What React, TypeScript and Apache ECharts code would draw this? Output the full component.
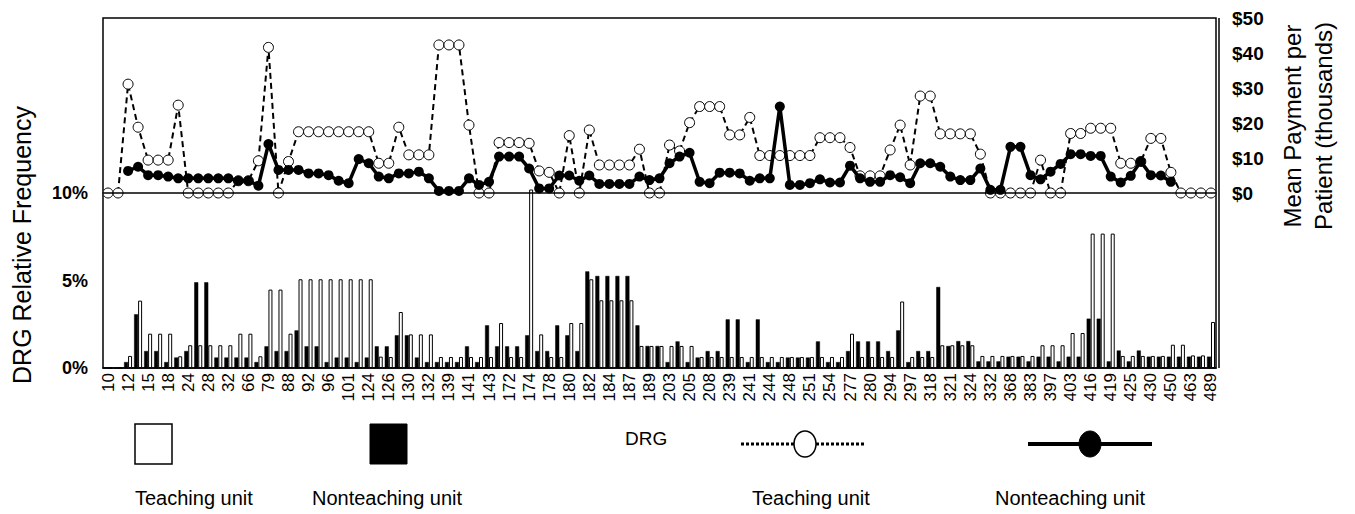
import React, { useEffect, useRef } from "react";
import * as echarts from "echarts";

const FONT = "'Liberation Sans', Arial, Helvetica, sans-serif";

// DRG codes (every other one is labelled on the axis)
const drgCodes: string[] = [
  "10", "11", "12", "14", "15", "16", "18", "19", "24", "25",
  "28", "29", "32", "34", "66", "68", "79", "82", "88", "89",
  "92", "94", "96", "99", "101", "110", "124", "125", "126", "127",
  "130", "131", "132", "138", "139", "140", "141", "142", "143", "148",
  "172", "173", "174", "175", "178", "179", "180", "181", "182", "183",
  "184", "185", "187", "188", "189", "202", "203", "204", "205", "207",
  "208", "210", "239", "240", "241", "243", "244", "246", "248", "249",
  "251", "253", "254", "263", "277", "278", "280", "283", "294", "296",
  "297", "316", "318", "320", "321", "323", "324", "331", "332", "367",
  "368", "382", "383", "395", "397", "398", "403", "415", "416", "418",
  "419", "421", "425", "429", "430", "449", "450", "462", "463", "468",
  "489",
];

// DRG relative frequency (%), teaching unit (white bars)
const teachingFreq: number[] = [
  0, 0, 0.69, 3.85, 1.96, 1.96, 1.96, 0.67, 1.3, 1.3,
  1.3, 1.3, 1.3, 1.96, 1.96, 0.67, 4.48, 4.48, 1.96, 5.07,
  5.07, 5.07, 5.07, 5.07, 5.07, 5.07, 5.07, 0.65, 0.63, 3.2,
  1.92, 1.92, 1.92, 0.63, 0.63, 0.63, 0.63, 0.63, 0.63, 2.57,
  0.63, 0.63, 10.2, 1.92, 0.63, 0.63, 2.57, 2.57, 5.07, 3.87,
  3.87, 3.87, 3.87, 1.26, 1.26, 1.26, 1.26, 1.26, 1.26, 0.63,
  0.63, 0.63, 0.63, 0.63, 0.63, 0.63, 0.63, 0.63, 0.63, 0.63,
  0.63, 0.63, 0.63, 0.63, 1.96, 0.63, 0.63, 0.63, 0.63, 3.8,
  0.63, 0.63, 0.63, 1.3, 1.3, 1.3, 1.3, 0.69, 0.69, 0.69,
  0.69, 0.69, 0.69, 1.3, 1.3, 1.3, 2.0, 2.0, 7.68, 7.68,
  7.68, 0.69, 0.69, 0.69, 0.69, 0.69, 1.33, 1.33, 0.72, 0.72,
  2.63,
];

// DRG relative frequency (%), nonteaching unit (black bars)
const nonteachingFreq: number[] = [
  0, 0, 0.34, 3.07, 0.97, 0.97, 0.34, 0.6, 0.97, 4.9,
  4.9, 0.6, 0.6, 0.6, 0.6, 0.34, 1.24, 0.97, 0.97, 2.15,
  1.24, 1.24, 0.34, 0.6, 0.6, 0.34, 0.6, 1.24, 1.24, 1.87,
  1.87, 0.6, 0.34, 0.34, 0.34, 0.34, 1.24, 0.34, 2.44, 1.24,
  1.24, 1.24, 1.87, 0.97, 0.97, 2.44, 1.87, 0.97, 5.52, 5.26,
  5.26, 5.26, 5.26, 2.44, 1.26, 1.26, 0.34, 1.52, 0.34, 0.6,
  0.97, 0.97, 2.78, 2.78, 0.34, 2.78, 0.34, 0.34, 0.6, 0.6,
  0.6, 1.52, 0.34, 0.34, 0.97, 1.52, 1.52, 1.52, 0.97, 2.15,
  0.34, 0.97, 0.97, 4.63, 1.26, 1.54, 1.54, 0.38, 0.38, 0.38,
  0.65, 0.65, 0.38, 0.65, 0.65, 0.38, 0.65, 0.65, 2.82, 2.82,
  0.38, 1.0, 0.38, 1.0, 0.65, 0.65, 0.65, 0.65, 0.65, 0.65,
  0.65,
];

// Mean payment per patient (thousands $), teaching unit
const teachingPay: (number | null)[] = [
  0, 0, 31.1, 18.8, 9.4, 9.4, 9.4, 25.1, 0, 0,
  0, 0, 0, 3.5, 3.5, 9.2, 41.6, 0, 9, 17.5,
  17.5, 17.5, 17.5, 17.5, 17.5, 17.5, 17.5, 8.5, 8.5, 18.8,
  10.9, 10.9, 10.9, 42.3, 42.3, 42.3, 19.4, 0, 0, 14.4,
  14.4, 14.4, 14.2, 6.3, 5.9, 0, 16.4, 0, 18, 8,
  8, 8, 8, 12.5, 0, 0, 13.7, 12, 20.1, 24.7,
  24.7, 24.7, 16.6, 16.6, 21.6, 10.7, 10.7, 10.7, 10.7, 10.7,
  10.7, 15.8, 15.8, 15.8, 13.0, 4.9, 4.9, 4.9, 12.3, 19.4,
  8, 27.7, 27.7, 16.9, 16.9, 16.9, 16.9, 11.1, 0, 0,
  0, 0, 0, 9.4, 0, 0, 17, 17, 18.5, 18.5,
  18.5, 8.5, 8.5, 9, 15.6, 15.6, 5.9, 0, 0, 0,
  0,
];

// Mean payment per patient (thousands $), nonteaching unit
const nonteachingPay: (number | null)[] = [
  null, null, 6.3, 7.5, 5.1, 5.1, 4.7, 4.2, 4.2, 4.2,
  4.2, 4.2, 4.2, 3.5, 3.5, 2.1, 14.0, 6.6, 6.6, 6.6,
  5.6, 5.6, 5.1, 3.5, 2.8, 9.7, 8.5, 4.7, 4.2, 5.6,
  5.6, 6.1, 4.2, 0.6, 0.6, 0.6, 4.2, 2.3, 3.2, 10.4,
  10.4, 10.4, 7.0, 1.3, 1.3, 5.0, 5.0, 3.5, 5.0, 2.6,
  2.6, 2.6, 2.6, 4.7, 3.7, 4.2, 8.5, 10.4, 11.5, 3.2,
  2.8, 5.8, 5.8, 5.6, 3.5, 4.2, 4.2, 24.7, 2.3, 2.3,
  2.8, 3.9, 3.0, 3.0, 7.8, 4.2, 3.2, 3.2, 5.1, 4.5,
  2.8, 8.5, 8.5, 7.5, 4.7, 3.7, 3.7, 7.0, 0.9, 0.9,
  13.2, 13.2, 5.1, 3.9, 6.1, 8.3, 11.1, 11.1, 10.6, 10.6,
  4.7, 3.0, 4.9, 9.0, 5.1, 5.0, 3.2, null, null, null,
  null,
];

const leftTicks = [0, 5, 10];
const rightTicks = [0, 10, 20, 30, 40, 50];

export default function App() {
  const ref = useRef<HTMLDivElement>(null);

  useEffect(() => {
    if (!ref.current) return;
    const chart = echarts.init(ref.current, null, { renderer: "svg" });

    const option: any = {
      animation: false,
      backgroundColor: "#ffffff",
      textStyle: { fontFamily: FONT, color: "#000" },
      grid: {
        left: 103,
        right: 139,
        top: 18,
        bottom: 146,
        show: true,
        borderColor: "#000",
        borderWidth: 1.5,
        backgroundColor: "transparent",
      },
      xAxis: {
        type: "category",
        data: drgCodes,
        boundaryGap: true,
        axisLine: { show: true, lineStyle: { color: "#000", width: 1.5 } },
        axisTick: { show: false },
        splitLine: { show: false },
        axisLabel: {
          interval: 1,
          rotate: 90,
          fontSize: 17,
          color: "#000",
          margin: 5,
          fontFamily: FONT,
          hideOverlap: false,
        },
      },
      yAxis: [
        {
          type: "value",
          min: 0,
          max: 20,
          interval: 5,
          position: "left",
          axisLine: { show: false },
          axisTick: { show: false },
          splitLine: { show: false },
          axisLabel: {
            margin: 15,
            fontSize: 18,
            fontWeight: "bold",
            color: "#000",
            fontFamily: FONT,
            formatter: (v: number) => (leftTicks.includes(v) ? v + "%" : ""),
          },
        },
        {
          type: "value",
          min: -50,
          max: 50,
          interval: 10,
          position: "right",
          axisLine: { show: false },
          axisTick: { show: false },
          splitLine: { show: false },
          axisLabel: {
            margin: 16,
            fontSize: 19,
            fontWeight: "bold",
            color: "#000",
            fontFamily: FONT,
            formatter: (v: number) => (rightTicks.includes(v) ? "$" + v : ""),
          },
        },
      ],
      series: [
        {
          name: "Nonteaching unit",
          type: "bar",
          yAxisIndex: 0,
          data: nonteachingFreq,
          barWidth: 4,
          barGap: "0%",
          itemStyle: { color: "#000", borderColor: "#000", borderWidth: 0.5 },
          z: 2,
        },
        {
          name: "Teaching unit",
          type: "bar",
          yAxisIndex: 0,
          data: teachingFreq,
          barWidth: 4,
          barGap: "0%",
          itemStyle: { color: "#fff", borderColor: "#000", borderWidth: 1 },
          z: 2,
        },
        {
          name: "Teaching payment",
          type: "line",
          yAxisIndex: 1,
          data: teachingPay,
          symbol: "circle",
          symbolSize: 10,
          showSymbol: true,
          showAllSymbol: true,
          itemStyle: { color: "#fff", borderColor: "#000", borderWidth: 1 },
          lineStyle: { color: "#000", width: 2, type: [6, 4] },
          z: 4,
          markLine: {
            silent: true,
            symbol: ["none", "none"],
            label: { show: false },
            lineStyle: { color: "#000", type: "solid", width: 1.5 },
            data: [{ yAxis: 0 }],
          },
        },
        {
          name: "Nonteaching payment",
          type: "line",
          yAxisIndex: 1,
          data: nonteachingPay,
          symbol: "circle",
          symbolSize: 10,
          showSymbol: true,
          showAllSymbol: true,
          connectNulls: false,
          itemStyle: { color: "#000", borderColor: "#000", borderWidth: 0 },
          lineStyle: { color: "#000", width: 3.5, type: "solid" },
          z: 5,
        },
      ],
      graphic: [
        // right double border line
        {
          type: "line",
          shape: { x1: 1219, y1: 18, x2: 1219, y2: 368 },
          style: { stroke: "#000", lineWidth: 1.5 },
        },
        {
          type: "text",
          x: 22,
          y: 245,
          rotation: Math.PI / 2,
          style: {
            text: "DRG Relative Frequency",
            font: `25px ${FONT}`,
            fill: "#000",
            textAlign: "center",
            textVerticalAlign: "middle",
          },
        },
        {
          type: "text",
          x: 1292,
          y: 126,
          rotation: Math.PI / 2,
          style: {
            text: "Mean Payment per",
            font: `24px ${FONT}`,
            fill: "#000",
            textAlign: "center",
            textVerticalAlign: "middle",
          },
        },
        {
          type: "text",
          x: 1323,
          y: 126,
          rotation: Math.PI / 2,
          style: {
            text: "Patient (thousands)",
            font: `24px ${FONT}`,
            fill: "#000",
            textAlign: "center",
            textVerticalAlign: "middle",
          },
        },
        // legend
        {
          type: "rect",
          shape: { x: 135, y: 424, width: 37, height: 40 },
          style: { fill: "#fff", stroke: "#000", lineWidth: 1.5 },
        },
        {
          type: "rect",
          shape: { x: 370, y: 424, width: 37, height: 40 },
          style: { fill: "#000", stroke: "#000", lineWidth: 1 },
        },
        {
          type: "text",
          x: 625,
          y: 438,
          style: {
            text: "DRG",
            font: `19px ${FONT}`,
            fill: "#000",
            textAlign: "left",
            textVerticalAlign: "middle",
          },
        },
        {
          type: "line",
          shape: { x1: 741, y1: 444, x2: 865, y2: 444 },
          style: { stroke: "#000", lineWidth: 3, lineDash: [3, 2] },
        },
        {
          type: "ellipse",
          shape: { cx: 805, cy: 444, rx: 11, ry: 13 },
          style: { fill: "#fff", stroke: "#000", lineWidth: 1.5 },
        },
        {
          type: "line",
          shape: { x1: 1028, y1: 444, x2: 1152, y2: 444 },
          style: { stroke: "#000", lineWidth: 4 },
        },
        {
          type: "ellipse",
          shape: { cx: 1090, cy: 444, rx: 11, ry: 13 },
          style: { fill: "#000", stroke: "#000", lineWidth: 1 },
        },
        {
          type: "text",
          x: 135,
          y: 498,
          style: {
            text: "Teaching unit",
            font: `20px ${FONT}`,
            fill: "#000",
            textAlign: "left",
            textVerticalAlign: "middle",
          },
        },
        {
          type: "text",
          x: 312,
          y: 498,
          style: {
            text: "Nonteaching unit",
            font: `20px ${FONT}`,
            fill: "#000",
            textAlign: "left",
            textVerticalAlign: "middle",
          },
        },
        {
          type: "text",
          x: 752,
          y: 498,
          style: {
            text: "Teaching unit",
            font: `20px ${FONT}`,
            fill: "#000",
            textAlign: "left",
            textVerticalAlign: "middle",
          },
        },
        {
          type: "text",
          x: 995,
          y: 498,
          style: {
            text: "Nonteaching unit",
            font: `20px ${FONT}`,
            fill: "#000",
            textAlign: "left",
            textVerticalAlign: "middle",
          },
        },
      ],
    };

    chart.setOption(option);
    return () => {
      chart.dispose();
    };
  }, []);

  return (
    <div
      ref={ref}
      style={{ position: "fixed", left: 0, top: 0, width: 1355, height: 514 }}
    />
  );
}
